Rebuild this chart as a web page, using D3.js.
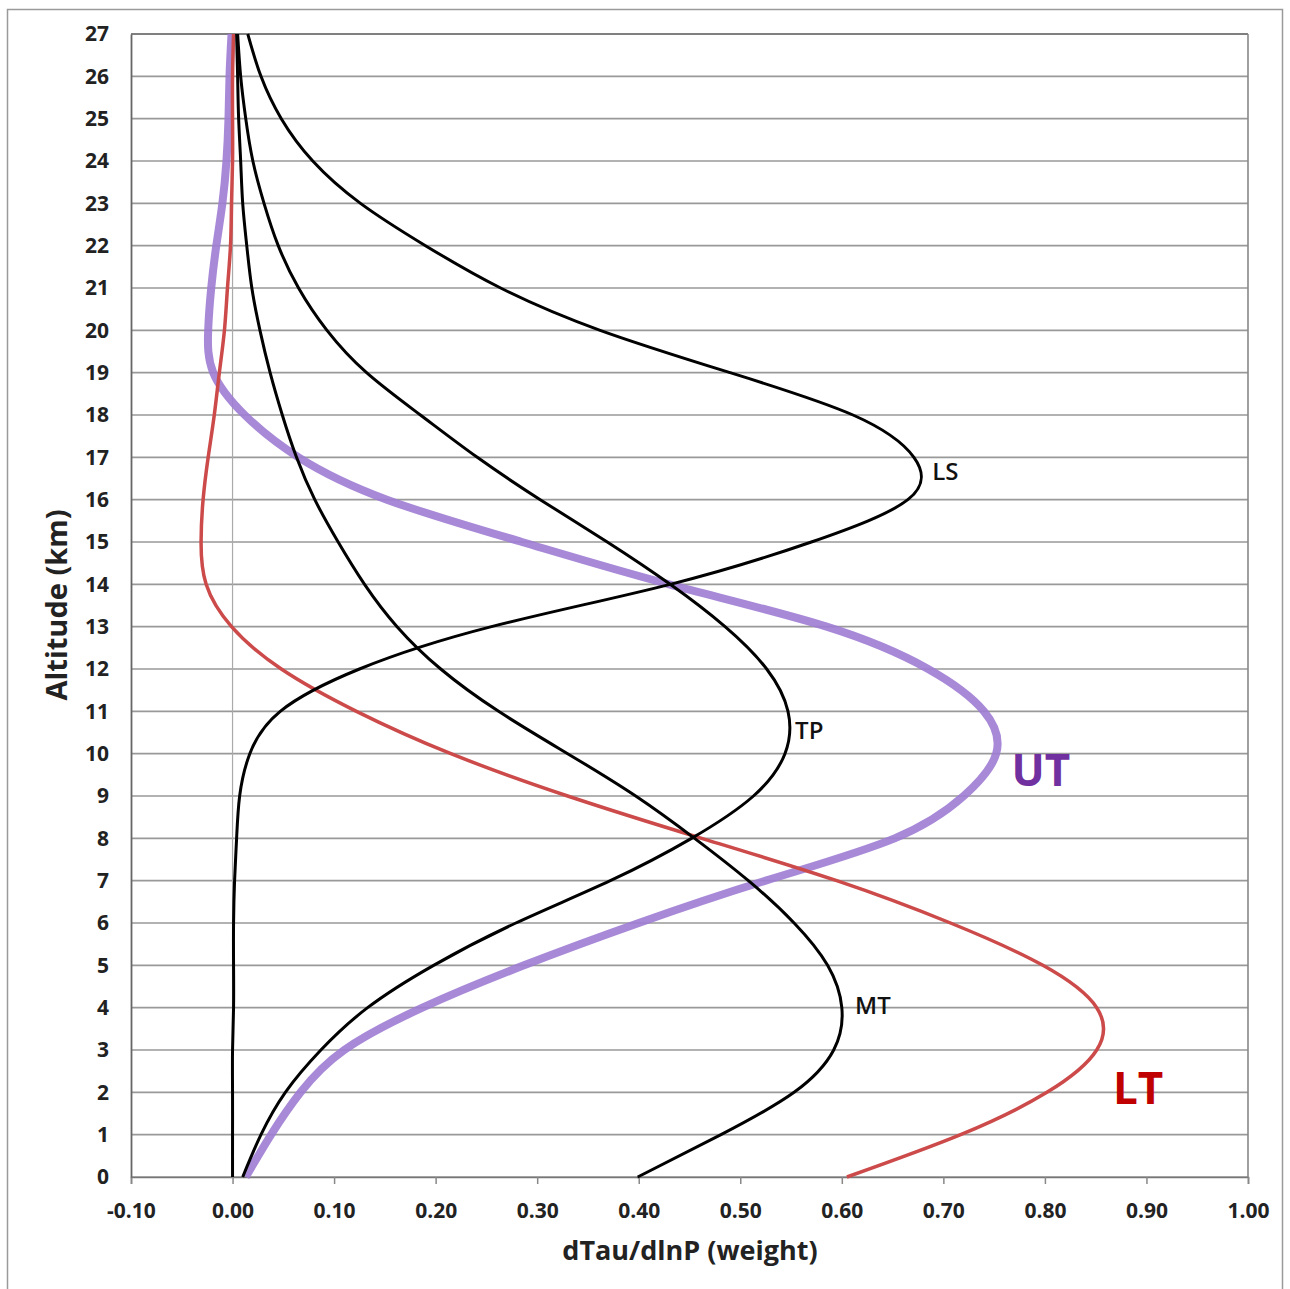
<!DOCTYPE html>
<html>
<head>
<meta charset="utf-8">
<script src="https://cdn.jsdelivr.net/npm/d3@7"></script>
<style>
  body { margin: 0; background: #fff; }
  svg text { font-family: "Open Sans", "Liberation Sans", sans-serif; }
</style>
</head>
<body>
<div class="container"></div>
<script>
const WIDTH = 1290;
const HEIGHT = 1289;
const PLOT_LEFT = 131;
const PLOT_RIGHT = 1248;
const PLOT_TOP = 34;
const PLOT_BOTTOM = 1177;

// altitude in km, one row per value below
const altitudes = [0, 1, 2, 3, 4, 5, 6, 7, 8, 9, 10, 11, 12, 13, 14, 15, 16, 17, 18, 19, 20, 21, 22, 23, 24, 25, 26, 27];

const ltWeights = [0.605, 0.717, 0.802, 0.851, 0.851, 0.798, 0.707, 0.595, 0.462, 0.330, 0.215, 0.122, 0.048, -0.001,
    -0.026, -0.031, -0.029, -0.024, -0.018, -0.013, -0.008, -0.005, -0.002, -0.001, 0.000, 0.000, 0.000, 0.001];
const mtWeights = [0.399, 0.481, 0.553, 0.592, 0.600, 0.586, 0.553, 0.508, 0.455, 0.397, 0.330, 0.262, 0.205, 0.162,
    0.130, 0.104, 0.081, 0.063, 0.049, 0.037, 0.027, 0.019, 0.014, 0.010, 0.008, 0.006, 0.005, 0.004];
const utWeights = [0.013, 0.038, 0.067, 0.110, 0.187, 0.287, 0.400, 0.525, 0.652, 0.720, 0.752, 0.740, 0.685, 0.585,
    0.430, 0.285, 0.152, 0.065, 0.012, -0.019, -0.024, -0.021, -0.016, -0.010, -0.006, -0.004, -0.003, -0.001];
const tpWeights = [0.010, 0.028, 0.052, 0.087, 0.133, 0.198, 0.279, 0.372, 0.452, 0.513, 0.544, 0.547, 0.526, 0.485,
    0.431, 0.369, 0.303, 0.241, 0.185, 0.132, 0.093, 0.065, 0.045, 0.031, 0.020, 0.013, 0.008, 0.005];
const lsWeights = [0.000, 0.000, 0.000, 0.000, 0.001, 0.001, 0.001, 0.002, 0.004, 0.007, 0.017, 0.047, 0.125, 0.255,
    0.431, 0.570, 0.665, 0.671, 0.611, 0.490, 0.362, 0.264, 0.190, 0.126, 0.079, 0.048, 0.028, 0.015];

const xTicks = [-0.10, 0.00, 0.10, 0.20, 0.30, 0.40, 0.50, 0.60, 0.70, 0.80, 0.90, 1.00];
const yTicks = altitudes;

const seriesNames = ["UT", "LT", "LS", "TP", "MT"];
// where each curve's name sits: [weight, altitude]
const labelAnchors = {
    LS: [0.689, 16.68],
    TP: [0.554, 10.54],
    MT: [0.613, 4.06],
    UT: [0.767, 9.6],
    LT: [0.867, 2.1]
};

const seriesData = {
    UT: utWeights,
    LT: ltWeights,
    LS: lsWeights,
    TP: tpWeights,
    MT: mtWeights
};

const lineStyle = {
    UT: { color: "#9e7cd3", width: 8, opacity: 0.9 },
    LT: { color: "#cc4a4a", width: 3.5, opacity: 1 },
    LS: { color: "#000", width: 3, opacity: 1 },
    TP: { color: "#000", width: 3, opacity: 1 },
    MT: { color: "#000", width: 3, opacity: 1 }
};

const labelStyle = {
    LS: { color: "#111", size: 24, weight: 600 },
    TP: { color: "#111", size: 24, weight: 600 },
    MT: { color: "#111", size: 24, weight: 600 },
    UT: { color: "#7030a0", size: 44, weight: 700 },
    LT: { color: "#c00000", size: 44, weight: 700 }
};

var xScale = d3.scaleLinear()
    .domain([-0.1, 1.0])
    .range([PLOT_LEFT, PLOT_RIGHT]);

var yScale = d3.scaleLinear()
    .domain([0, 27])
    .range([PLOT_BOTTOM, PLOT_TOP]);

var translate = function(x, y) {
    return "translate(" + x + "," + y + ")";
};

var drawFrame = function(svg) {
    svg.append("rect")
        .attr("x", 7.5).attr("y", 9.5)
        .attr("width", 1275).attr("height", 1290)
        .attr("fill", "none")
        .attr("stroke", "#9a9a9a")
        .attr("stroke-width", 1.5);
};

var drawGrid = function(svg) {
    var g = svg.append("g");
    g.selectAll("line.grid")
        .data(yTicks)
        .enter()
        .append("line")
        .attr("x1", PLOT_LEFT)
        .attr("x2", PLOT_RIGHT)
        .attr("y1", d => yScale(d))
        .attr("y2", d => yScale(d))
        .attr("stroke", d => d === 27 ? "#555" : "#999")
        .attr("stroke-width", 1.6);

    // zero line
    g.append("line")
        .attr("x1", xScale(0)).attr("x2", xScale(0))
        .attr("y1", PLOT_TOP).attr("y2", PLOT_BOTTOM)
        .attr("stroke", "#aaa")
        .attr("stroke-width", 1.2);

    // right border
    g.append("line")
        .attr("x1", PLOT_RIGHT).attr("x2", PLOT_RIGHT)
        .attr("y1", PLOT_TOP).attr("y2", PLOT_BOTTOM)
        .attr("stroke", "#888")
        .attr("stroke-width", 1.6);
};

var drawAxes = function(svg) {
    var xAxis = d3.axisBottom(xScale)
        .tickValues(xTicks)
        .tickSize(7)
        .tickPadding(19)
        .tickFormat(d => d.toFixed(2));

    var yAxis = d3.axisLeft(yScale)
        .tickValues(yTicks)
        .tickSize(0)
        .tickPadding(22)
        .tickFormat(d => String(d));

    var gx = svg.append("g")
        .attr("transform", translate(0, PLOT_BOTTOM))
        .call(xAxis);
    gx.select(".domain").attr("stroke", "#777").attr("stroke-width", 1.6);
    gx.selectAll(".tick line").attr("stroke", "#888").attr("stroke-width", 1.5);
    gx.selectAll(".tick text")
        .attr("fill", "#222")
        .style("font-size", "21px")
        .style("font-weight", 700);

    var gy = svg.append("g")
        .attr("transform", translate(PLOT_LEFT, 0))
        .call(yAxis);
    gy.select(".domain").attr("stroke", "#666").attr("stroke-width", 1.8);
    gy.selectAll(".tick text")
        .attr("fill", "#222")
        .style("font-size", "21px")
        .style("font-weight", 700);

    svg.append("text")
        .attr("x", 690)
        .attr("y", 1260)
        .attr("text-anchor", "middle")
        .attr("fill", "#222")
        .style("font-size", "27px")
        .style("font-weight", 700)
        .text("dTau/dlnP (weight)");

    svg.append("text")
        .attr("transform", translate(67, 605) + " rotate(-90)")
        .attr("text-anchor", "middle")
        .attr("fill", "#222")
        .style("font-size", "29px")
        .style("font-weight", 700)
        .text("Altitude (km)");
};

var drawCurves = function(svg) {
    var line = d3.line()
        .x(d => xScale(d.w))
        .y(d => yScale(d.h))
        .curve(d3.curveNatural);

    seriesNames.forEach(function(name) {
        var pts = altitudes.map((h, i) => ({ h: h, w: seriesData[name][i] }));
        svg.append("path")
            .datum(pts)
            .attr("d", line)
            .attr("fill", "none")
            .attr("stroke", lineStyle[name].color)
            .attr("stroke-width", lineStyle[name].width)
            .attr("stroke-opacity", lineStyle[name].opacity)
            .attr("stroke-linejoin", "round");
    });
};

var drawLabels = function(svg) {
    seriesNames.forEach(function(name) {
        var a = labelAnchors[name];
        svg.append("text")
            .attr("x", xScale(a[0]))
            .attr("y", yScale(a[1]))
            .attr("dy", "0.36em")
            .attr("fill", labelStyle[name].color)
            .style("font-size", labelStyle[name].size + "px")
            .style("font-weight", labelStyle[name].weight)
            .text(name);
    });
};

var loadChart = function() {
    var svg = d3.select(".container").append("svg")
        .attr("width", WIDTH)
        .attr("height", HEIGHT);

    drawFrame(svg);
    drawGrid(svg);
    drawAxes(svg);
    drawCurves(svg);
    drawLabels(svg);
};

window.onload = loadChart;
</script>
</body>
</html>
